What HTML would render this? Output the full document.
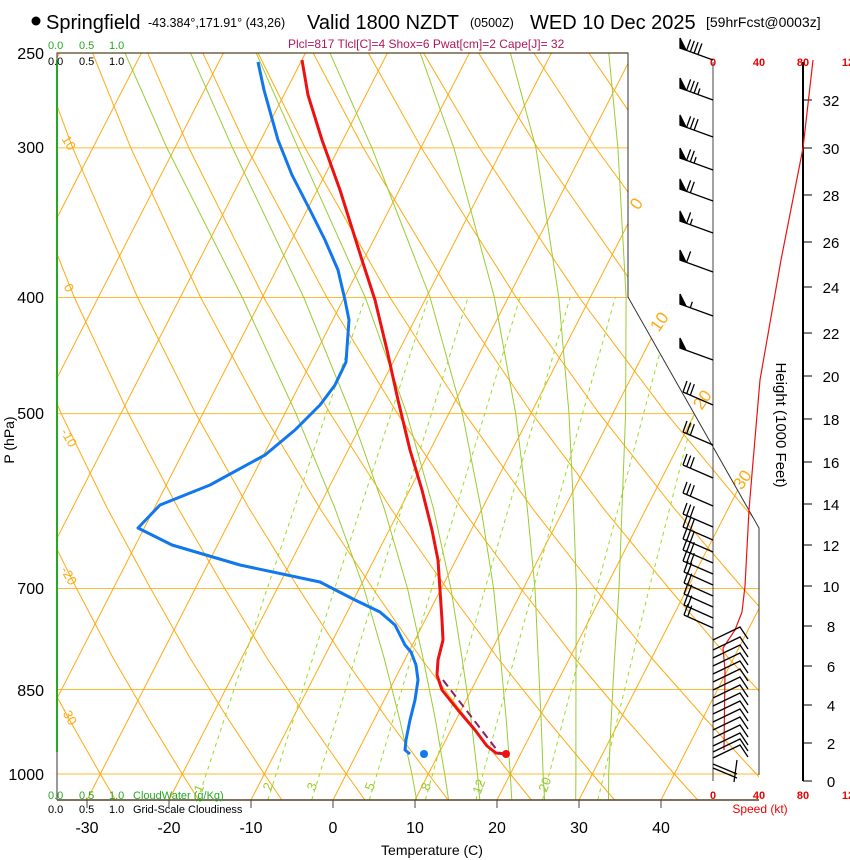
<!DOCTYPE html>
<html><head><meta charset="utf-8">
<style>
html,body{margin:0;padding:0;background:#fff;}
svg{display:block;font-family:"Liberation Sans",sans-serif;}
</style></head>
<body>
<svg width="850" height="860" viewBox="0 0 850 860" xmlns="http://www.w3.org/2000/svg">
<defs>
<clipPath id="cp"><polygon points="57,53 628,53 628,297 759,528 759,800 57,800"/></clipPath>
<g id="fl"><path d="M713,0L680,-12" fill="none"/><polygon points="680,-12 686,-10 680,-22"/></g>
<path id="b1" d="M686.6,-9.6l4,-11" fill="none"/>
<path id="b2" d="M690.3,-8.2l4,-11" fill="none"/>
<path id="b3" d="M694.1,-6.9l4,-11" fill="none"/>
<path id="b4" d="M697.9,-5.5l4,-11" fill="none"/>
<path id="h2" d="M690.3,-8.2l2,-6" fill="none"/>
<path id="h3" d="M694.1,-6.9l2,-6" fill="none"/>
<path id="h4" d="M697.9,-5.5l2,-6" fill="none"/>
<path id="m3" d="M713,0L683,-13 M683,-13l4,-11 M686.7,-11.4l4,-11 M690.3,-9.8l4,-11" fill="none"/>
<path id="m2" d="M713,0L684,-13 M684,-13l4,-11 M687.7,-11.4l4,-11" fill="none"/>
<path id="lw" d="M713,0L740,-13L748,-1" fill="none"/>
</defs>

<g clip-path="url(#cp)" fill="none">
<g stroke-width="1" stroke="#ffbb33">
<line x1="57" x2="760" y1="147.9" y2="147.9"/>
<line x1="57" x2="760" y1="297.5" y2="297.5"/>
<line x1="57" x2="760" y1="413.6" y2="413.6"/>
<line x1="57" x2="760" y1="588.5" y2="588.5"/>
<line x1="57" x2="760" y1="689.5" y2="689.5"/>
<line x1="57" x2="760" y1="774" y2="774"/>
</g>
<g stroke="#ffaa11" stroke-width="1">
<line x1="-323" y1="800" x2="59.4" y2="53"/>
<line x1="-241" y1="800" x2="141.4" y2="53"/>
<line x1="-159" y1="800" x2="223.4" y2="53"/>
<line x1="-77" y1="800" x2="305.4" y2="53"/>
<line x1="5" y1="800" x2="387.4" y2="53"/>
<line x1="87" y1="800" x2="469.4" y2="53"/>
<line x1="169" y1="800" x2="551.4" y2="53"/>
<line x1="251" y1="800" x2="633.4" y2="53"/>
<line x1="333" y1="800" x2="715.4" y2="53"/>
<line x1="415" y1="800" x2="797.4" y2="53"/>
<line x1="497" y1="800" x2="879.4" y2="53"/>
<line x1="579" y1="800" x2="961.4" y2="53"/>
<line x1="661" y1="800" x2="1043.4" y2="53"/>
</g>
<g stroke="#ffaa11" stroke-width="1">
<polyline points="115.5,800 100.3,774 69,719 36.2,658 2.5,588.5"/>
<polyline points="198.7,800 182.3,774 148.6,719 113.1,658 76.6,588.5 36.5,508.4"/>
<polyline points="281.9,800 264.3,774 228.2,719 190,658 150.6,588.5 107.3,508.4 61.2,413.6 11.3,297.5"/>
<polyline points="365,800 346.3,774 307.7,719 266.9,658 224.7,588.5 178.2,508.4 128.5,413.6 74.4,297.5 14.6,147.9"/>
<polyline points="448.2,800 428.3,774 387.3,719 343.9,658 298.7,588.5 249.1,508.4 195.7,413.6 137.6,297.5 72.7,147.9 37.4,53.1"/>
<polyline points="531.4,800 510.3,774 466.9,719 420.8,658 372.8,588.5 319.9,508.4 263,413.6 200.7,297.5 130.8,147.9 92.6,53.1"/>
<polyline points="614.5,800 592.3,774 546.4,719 497.7,658 446.8,588.5 390.8,508.4 330.2,413.6 263.8,297.5 188.9,147.9 147.7,53.1"/>
<polyline points="697.7,800 674.3,774 626,719 574.7,658 520.9,588.5 461.6,508.4 397.5,413.6 326.9,297.5 247,147.9 202.9,53.1"/>
<polyline points="780.9,800 756.3,774 705.6,719 651.6,658 594.9,588.5 532.5,508.4 464.7,413.6 390,297.5 305.1,147.9 258.1,53.1"/>
<polyline points="864,800 838.3,774 785.2,719 728.5,658 669,588.5 603.4,508.4 532,413.6 453.1,297.5 363.3,147.9 313.2,53.1"/>
<polyline points="864.7,719 805.5,658 743,588.5 674.2,508.4 599.2,413.6 516.2,297.5 421.4,147.9 368.4,53.1"/>
<polyline points="882.4,658 817.1,588.5 745.1,508.4 666.5,413.6 579.3,297.5 479.5,147.9 423.6,53.1"/>
<polyline points="891.1,588.5 815.9,508.4 733.7,413.6 642.4,297.5 537.6,147.9 478.7,53.1"/>
<polyline points="886.8,508.4 801,413.6 705.5,297.5 595.7,147.9 533.9,53.1"/>
<polyline points="868.2,413.6 768.6,297.5 653.8,147.9 589,53.1"/>
<polyline points="935.5,413.6 831.7,297.5 711.9,147.9 644.2,53.1"/>
</g>
<g stroke="#99dd22" stroke-width="1" stroke-dasharray="4,4">
<polyline points="197.7,800 267.2,588.5 365.3,297.5"/>
<polyline points="267.9,800 334.7,588.5 428.6,297.5"/>
<polyline points="311.7,800 376.5,588.5 468,297.5"/>
<polyline points="369.3,800 431.7,588.5 520,297.5"/>
<polyline points="425.3,800 485.1,588.5 570.1,297.5"/>
<polyline points="475.9,800 533.3,588.5 615.3,297.5"/>
<polyline points="542.6,800 596.8,588.5 674.7,297.5"/>
<polyline points="597.8,800 649.2,588.5 723.6,297.5"/>
</g>
<g stroke="#99cc33" stroke-width="1">
<polyline points="608.5,800 608.7,774 611.2,719 614.5,658 619,588.5 622,508.4 625.6,413.6 626.1,297.5 617.9,147.9 608.8,53.1"/>
<polyline points="575.7,800 575.9,774 575.9,719 576,658 576.4,588.5 573.6,508.4 569,413.6 558.8,297.5 535.9,147.9 510.4,53.1"/>
<polyline points="544.6,800 543.1,774 541.1,719 538.2,658 535,588.5 527.3,508.4 515.7,413.6 494.4,297.5 453.9,147.9 420.2,53.1"/>
<polyline points="511.8,800 510.3,774 506.2,719 500.5,658 493.6,588.5 481,508.4 462.4,413.6 430.1,297.5 371.9,147.9 330,53.1"/>
<polyline points="479.8,800 477.5,774 471,719 462,658 450.9,588.5 433.4,508.4 406.7,413.6 365.3,297.5 298.1,147.9 256.2,53.1"/>
<polyline points="448.6,800 444.7,774 435.3,719 423,658 407.5,588.5 384.2,508.4 350.9,413.6 303.8,297.5 232.5,147.9 190.6,53.1"/>
<polyline points="416.6,800 411.9,774 399.6,719 384.1,658 364,588.5 335,508.4 296,413.6 242.3,297.5 166.9,147.9 125,53.1"/>
</g>
</g>

<g fill="#ffaa11" font-size="13" text-anchor="middle">
<text transform="translate(65,145) rotate(60)">10</text>
<text transform="translate(65,290) rotate(60)">0</text>
<text transform="translate(65,440) rotate(60)">-10</text>
<text transform="translate(65,578) rotate(60)">-20</text>
<text transform="translate(65,718) rotate(60)">-30</text>
</g>
<g fill="#ffaa11" font-size="17" text-anchor="middle">
<text transform="translate(641,207) rotate(-55)">0</text>
<text transform="translate(664,325) rotate(-55)">10</text>
<text transform="translate(707,403) rotate(-55)">20</text>
<text transform="translate(747,483) rotate(-55)">30</text>
</g>
<g fill="#99cc33" font-size="13" text-anchor="middle">
<text transform="translate(203,790) rotate(-70)">1</text>
<text transform="translate(272,788) rotate(-70)">2</text>
<text transform="translate(316,788) rotate(-70)">3</text>
<text transform="translate(374,788) rotate(-70)">5</text>
<text transform="translate(430,788) rotate(-70)">8</text>
<text transform="translate(483,788) rotate(-70)">12</text>
<text transform="translate(549,786) rotate(-70)">20</text>
</g>

<g fill="none" stroke-linejoin="round">
<polyline stroke="#ee1111" stroke-width="3" points="302,60 308,95 322,140 340,190 362,260 375,300 387,350 398,400 410,450 422,490 432,530 438,560 440,590 442,620 443,640 438,660 437,675 442,690 458,710 475,730 487,746 496,753 506,754"/>
<polyline stroke="#1177ee" stroke-width="3" points="258,62 264,90 278,140 292,175 310,210 325,240 338,270 345,300 349,320 346,362 335,385 320,405 295,430 265,455 210,485 160,505 138,528 172,545 240,565 320,582 355,600 380,612 395,625 405,645 411,652 416,665 418,680 415,700 410,720 406,740 405,750 410,754"/>
<line x1="443" y1="680" x2="500" y2="754" stroke="#882266" stroke-width="2" stroke-dasharray="8,5"/>
</g>
<circle cx="424" cy="754" r="4" fill="#1177ee"/>
<circle cx="506" cy="754" r="4" fill="#ee1111"/>

<polyline points="57,800 57,53 628,53 628,297 759,528 759,775" fill="none" stroke="#000" stroke-width="1" opacity="0.8"/>
<line x1="57" y1="800" x2="759" y2="800" stroke="#554422" stroke-width="1.5"/>
<line x1="57" y1="53" x2="628" y2="53" stroke="#554422" stroke-width="1.2"/>
<line x1="57" y1="60" x2="57" y2="752" stroke="#22aa22" stroke-width="2"/>

<circle cx="36" cy="21" r="4.5" fill="#000"/>
<text x="46" y="29" font-size="20">Springfield</text>
<text x="148" y="27" font-size="12.5">-43.384°,171.91° (43,26)</text>
<text x="307" y="29" font-size="20">Valid 1800 NZDT</text>
<text x="470" y="27" font-size="12.5">(0500Z)</text>
<text x="530" y="29" font-size="20">WED 10 Dec 2025</text>
<text x="706" y="27" font-size="14">[59hrFcst@0003z]</text>
<text x="288" y="48" font-size="12" fill="#b0185a">Plcl=817 Tlcl[C]=4 Shox=6 Pwat[cm]=2 Cape[J]= 32</text>
<g font-size="11" fill="#22aa22"><text x="48" y="49">0.0</text><text x="79" y="49">0.5</text><text x="109" y="49">1.0</text></g>
<g font-size="11" fill="#000"><text x="48" y="65">0.0</text><text x="79" y="65">0.5</text><text x="109" y="65">1.0</text></g>
<g font-size="11" fill="#22aa22"><text x="48" y="799">0.0</text><text x="79" y="799">0.5</text><text x="109" y="799">1.0</text><text x="133" y="799">CloudWater (g/Kg)</text></g>
<g font-size="11" fill="#000"><text x="48" y="813">0.0</text><text x="79" y="813">0.5</text><text x="109" y="813">1.0</text><text x="133" y="813">Grid-Scale Cloudiness</text></g>

<g font-size="16" text-anchor="end">
<text x="44" y="59">250</text><text x="44" y="153">300</text><text x="44" y="303">400</text><text x="44" y="419">500</text><text x="44" y="594">700</text><text x="44" y="696">850</text><text x="44" y="780">1000</text>
</g>
<text transform="translate(14,440) rotate(-90)" font-size="14" text-anchor="middle">P (hPa)</text>
<g font-size="16" text-anchor="middle">
<text x="87" y="833">-30</text><text x="169" y="833">-20</text><text x="251" y="833">-10</text><text x="333" y="833">0</text><text x="415" y="833">10</text><text x="497" y="833">20</text><text x="579" y="833">30</text><text x="661" y="833">40</text>
</g>
<g stroke="#444" stroke-width="1"><line x1="87" y1="800" x2="87" y2="808"/><line x1="169" y1="800" x2="169" y2="808"/><line x1="251" y1="800" x2="251" y2="808"/><line x1="333" y1="800" x2="333" y2="808"/><line x1="415" y1="800" x2="415" y2="808"/><line x1="497" y1="800" x2="497" y2="808"/><line x1="579" y1="800" x2="579" y2="808"/><line x1="661" y1="800" x2="661" y2="808"/></g>
<text x="432" y="855" font-size="14" text-anchor="middle">Temperature (C)</text>

<line x1="713" y1="62" x2="713" y2="781" stroke="#444" stroke-width="1"/>
<line x1="803" y1="62" x2="803" y2="781" stroke="#000" stroke-width="2"/>
<g font-size="11" fill="#ee0000" font-weight="bold" text-anchor="middle">
<text x="713" y="66">0</text><text x="759" y="66">40</text><text x="803" y="66">80</text><text x="848" y="66">12</text>
<text x="713" y="799">0</text><text x="759" y="799">40</text><text x="803" y="799">80</text><text x="848" y="799">12</text>
</g>
<text x="760" y="813" font-size="12" fill="#ee0000" text-anchor="middle">Speed (kt)</text>
<text transform="translate(776,425) rotate(90)" font-size="15" text-anchor="middle">Height (1000 Feet)</text>
<g stroke="#000" stroke-width="1">
<line x1="803" x2="812" y1="781" y2="781"/><line x1="803" x2="812" y1="743" y2="743"/><line x1="803" x2="812" y1="705" y2="705"/><line x1="803" x2="812" y1="666" y2="666"/><line x1="803" x2="812" y1="626" y2="626"/><line x1="803" x2="812" y1="586" y2="586"/><line x1="803" x2="812" y1="545" y2="545"/><line x1="803" x2="812" y1="504" y2="504"/><line x1="803" x2="812" y1="462" y2="462"/><line x1="803" x2="812" y1="419" y2="419"/><line x1="803" x2="812" y1="376" y2="376"/><line x1="803" x2="812" y1="333" y2="333"/><line x1="803" x2="812" y1="287" y2="287"/><line x1="803" x2="812" y1="242" y2="242"/><line x1="803" x2="812" y1="195" y2="195"/><line x1="803" x2="812" y1="148" y2="148"/><line x1="803" x2="812" y1="100" y2="100"/>
</g>
<g font-size="15" text-anchor="middle">
<text x="831" y="787">0</text><text x="831" y="749">2</text><text x="831" y="711">4</text><text x="831" y="672">6</text><text x="831" y="632">8</text><text x="831" y="592">10</text><text x="831" y="551">12</text><text x="831" y="510">14</text><text x="831" y="468">16</text><text x="831" y="425">18</text><text x="831" y="382">20</text><text x="831" y="339">22</text><text x="831" y="293">24</text><text x="831" y="248">26</text><text x="831" y="201">28</text><text x="831" y="154">30</text><text x="831" y="106">32</text>
</g>
<polyline points="813,60 803,148 781,260 760,380 753,462 749,510 745,586 742,612 735,630 723,648 725,670 724,750" fill="none" stroke="#ee1111" stroke-width="1.2"/>

<g stroke="#000" stroke-width="1.3" fill="#000">
<g transform="translate(0,60)"><use href="#fl"/><use href="#b1"/><use href="#b2"/><use href="#b3"/><use href="#b4"/></g>
<g transform="translate(0,100)"><use href="#fl"/><use href="#b1"/><use href="#b2"/><use href="#b3"/><use href="#h4"/></g>
<g transform="translate(0,137)"><use href="#fl"/><use href="#b1"/><use href="#b2"/><use href="#b3"/></g>
<g transform="translate(0,170)"><use href="#fl"/><use href="#b1"/><use href="#b2"/><use href="#h3"/></g>
<g transform="translate(0,201)"><use href="#fl"/><use href="#b1"/><use href="#b2"/></g>
<g transform="translate(0,233)"><use href="#fl"/><use href="#b1"/><use href="#h2"/></g>
<g transform="translate(0,272)"><use href="#fl"/><use href="#b1"/></g>
<g transform="translate(0,316)"><use href="#fl"/><use href="#h2"/></g>
<g transform="translate(0,360)"><use href="#fl"/></g>
<use href="#m3" y="405"/><use href="#m3" y="445"/><use href="#m3" y="478"/><use href="#m3" y="506"/><use href="#m3" y="527"/><use href="#m3" y="540"/><use href="#m3" y="552"/><use href="#m3" y="563"/><use href="#m3" y="574"/><use href="#m2" y="585"/><use href="#m2" y="596"/><use href="#m2" y="607"/><use href="#m2" y="618"/><use href="#m2" y="628"/>
<use href="#lw" y="640"/><use href="#lw" y="650"/><use href="#lw" y="658"/><use href="#lw" y="666"/><use href="#lw" y="674"/><use href="#lw" y="682"/><use href="#lw" y="690"/><use href="#lw" y="698"/><use href="#lw" y="706"/><use href="#lw" y="714"/><use href="#lw" y="722"/><use href="#lw" y="730"/><use href="#lw" y="738"/><use href="#lw" y="746"/><use href="#lw" y="752"/><use href="#lw" y="758"/>
<path d="M713,764L737,774 M713,768L737,778 M737,760L734,782" fill="none"/>
</g>
</svg>
</body></html>
